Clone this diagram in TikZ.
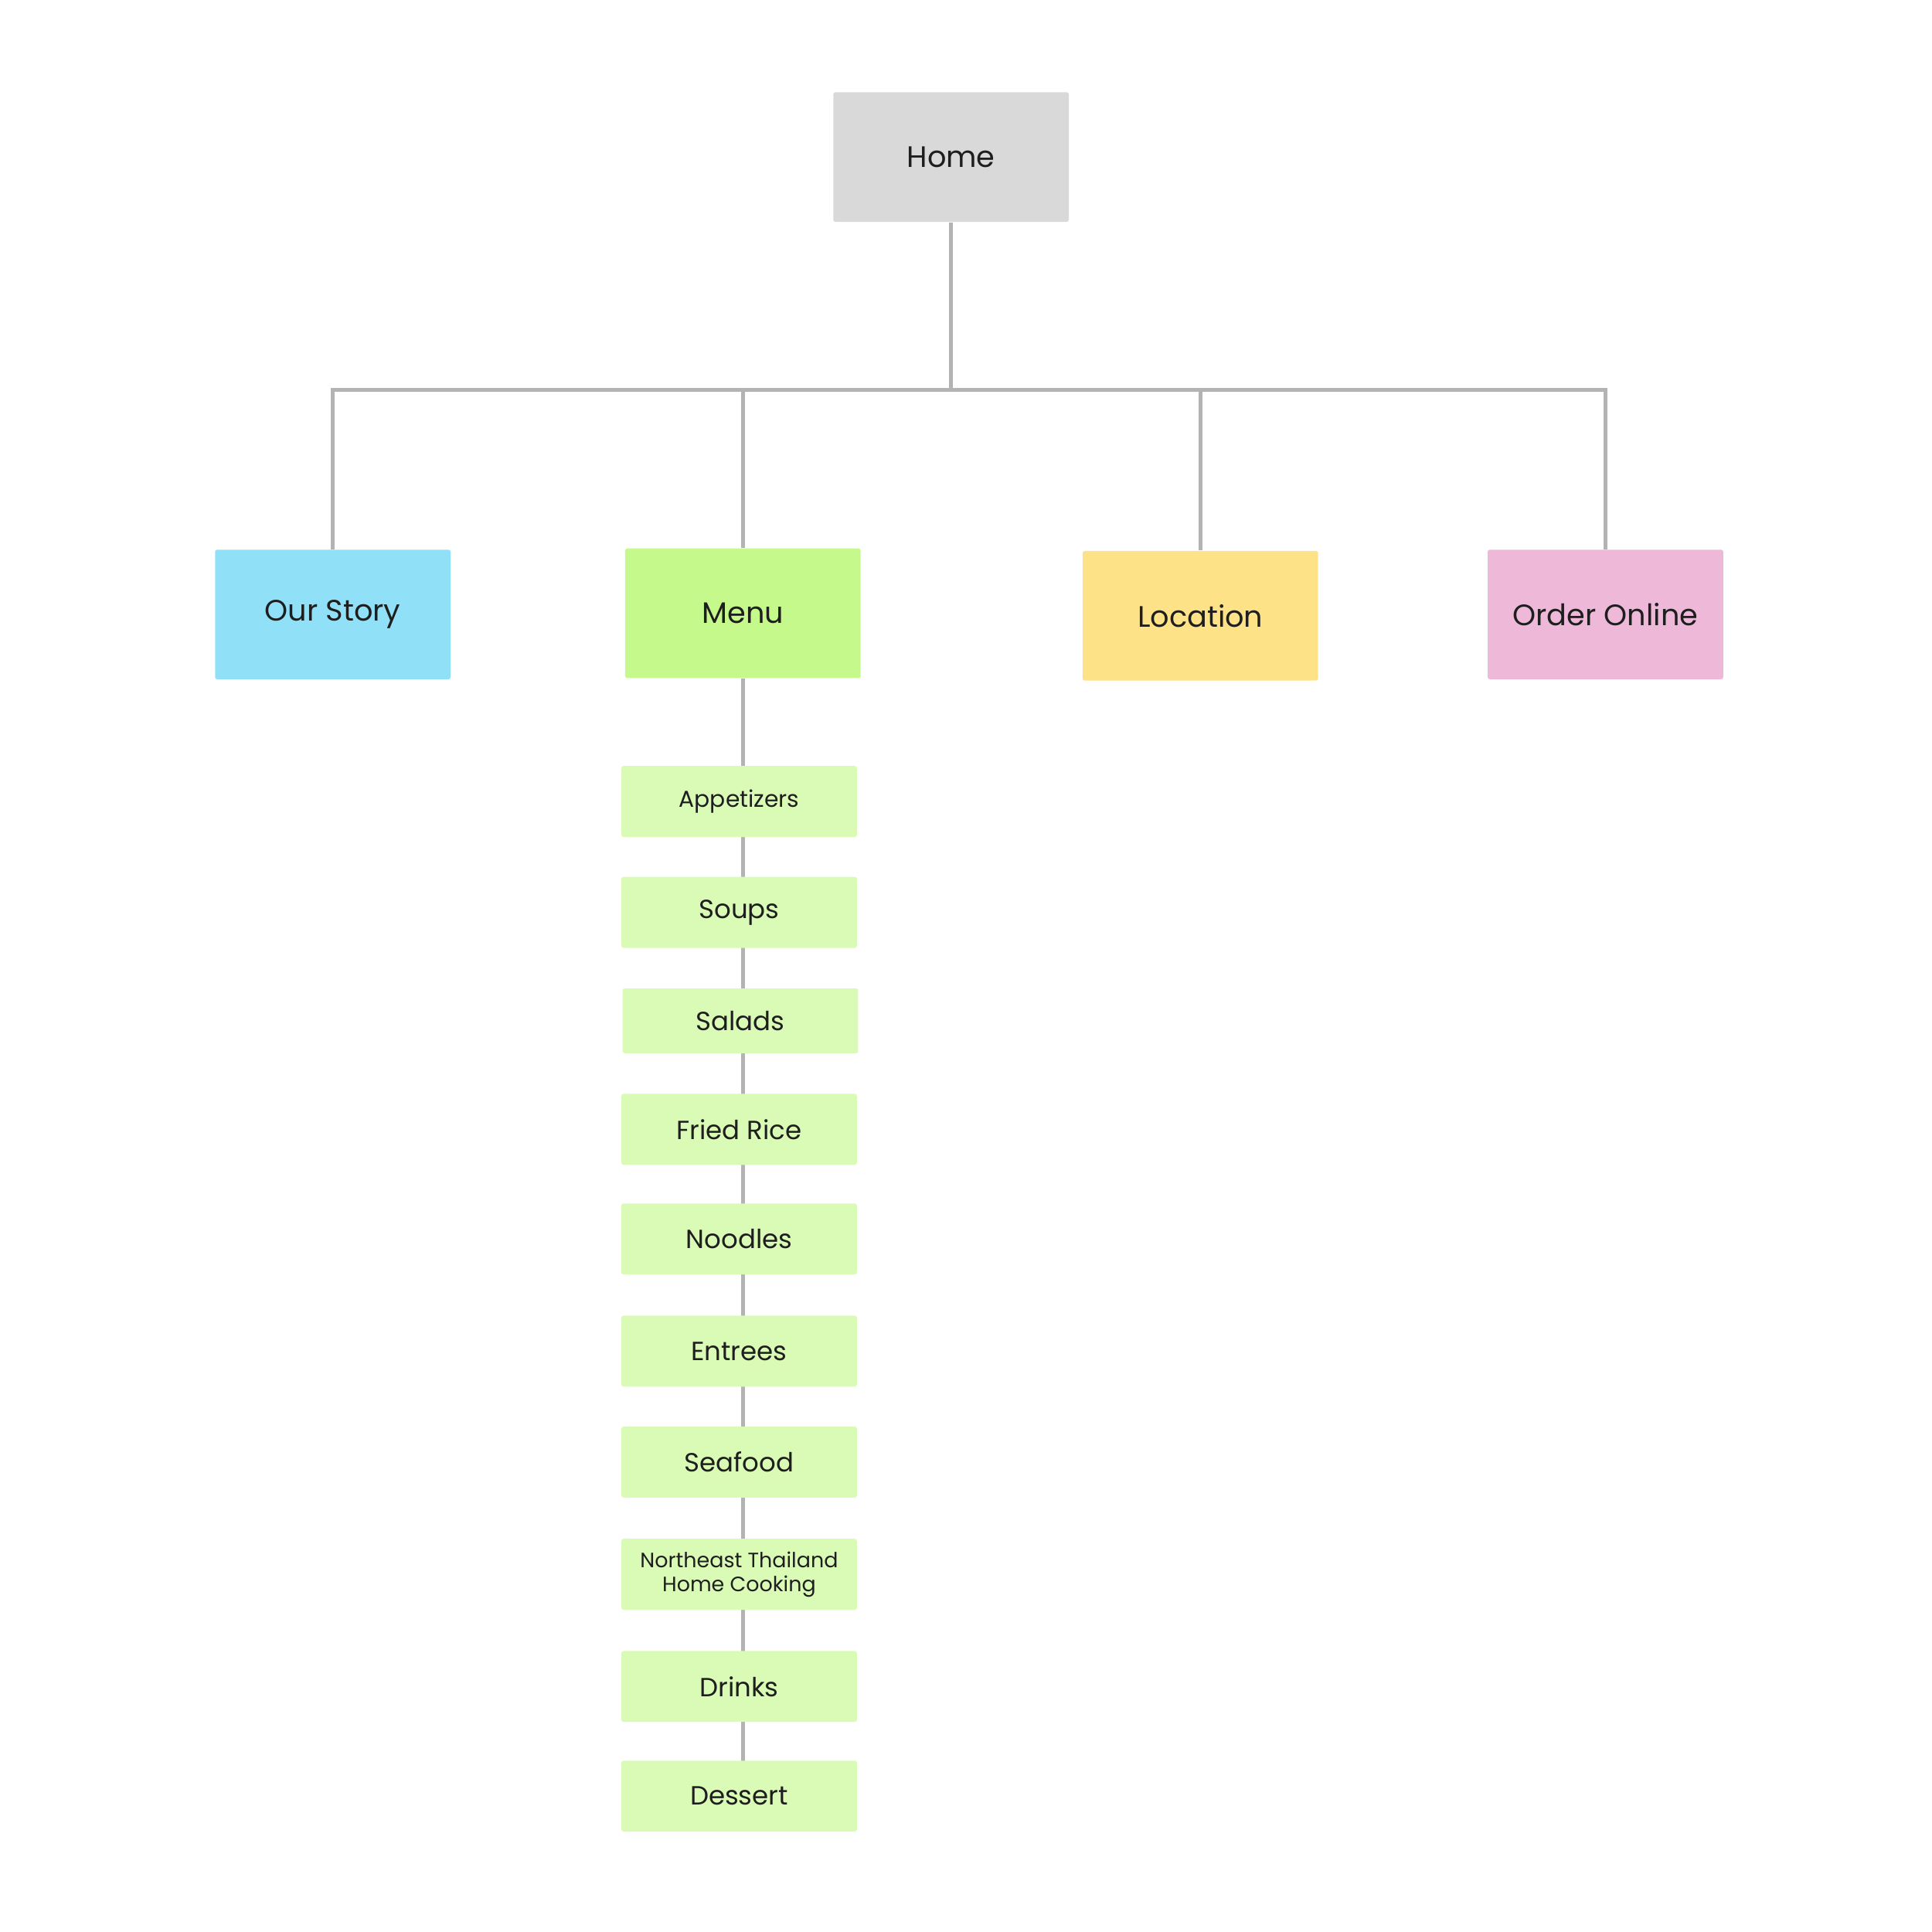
\documentclass[tikz,border=0pt]{standalone}
\usepackage{fontspec}
\setmainfont{Poppins}
\usetikzlibrary{positioning}
\definecolor{homegrey}{HTML}{D9D9D9}
\definecolor{storyblue}{HTML}{90E0F7}
\definecolor{menugreen}{HTML}{C6F98C}
\definecolor{locyellow}{HTML}{FEE287}
\definecolor{orderpink}{HTML}{EEB8D9}
\definecolor{subgreen}{HTML}{DAFBB6}
\definecolor{linkgrey}{HTML}{B3B3B3}
\definecolor{textdark}{HTML}{1E1E1E}
\begin{document}
\begin{tikzpicture}[x=0.02cm, y=-0.02cm,
    page/.style={rectangle, rounded corners=1pt, minimum width=3.78cm, minimum height=2.08cm,
        text=textdark, font=\fontsize{13.5}{16}\selectfont, inner sep=0pt},
    subpage/.style={page, fill=subgreen, minimum height=1.14cm, font=\fontsize{12}{14}\selectfont},
    link/.style={draw=linkgrey, line width=1.7pt}]
    \useasboundingbox (0,0) rectangle (1550,1550);

    % Menu items (drawn first, the spine runs behind them)
    \coordinate (spine) at (596,1441);
    \node[page, fill=menugreen] (menu) at (596,492) {Menu};
    \draw[link] (menu.south) -- (spine);
    \node[subpage, font=\fontsize{10.5}{12}\selectfont] (app) at (593,643) {Appetizers};
    \node[subpage] (soup) at (593,732) {Soups};
    \node[subpage, minimum height=1.04cm] (salad) at (594,819) {Salads};
    \node[subpage] (rice) at (593,906) {Fried Rice};
    \node[subpage] (noodle) at (593,994) {Noodles};
    \node[subpage] (entree) at (593,1084) {Entrees};
    \node[subpage] (sea) at (593,1173) {Seafood};
    \node[subpage, font=\fontsize{9.5}{11}\selectfont, align=center] (isan) at (593,1263) {Northeast Thailand\\Home Cooking};
    \node[subpage] (drink) at (593,1353) {Drinks};
    \node[subpage] (dessert) at (593,1441) {Dessert};

    % Top level
    \node[page, fill=homegrey] (home) at (763,126) {Home};

    % Sections
    \node[page, fill=storyblue] (story) at (267,493) {Our Story};
    \node[page, fill=locyellow] (loc) at (963,494) {Location};
    \node[page, fill=orderpink] (order) at (1288,493) {Order Online};

    % Bus
    \coordinate (bus) at (763,313);
    \draw[link] (home.south) -- (bus);
    \draw[link] (story.north) |- (bus) -| (order.north);
    \draw[link] (menu.north) -- (menu.north |- bus);
    \draw[link] (loc.north) -- (loc.north |- bus);
\end{tikzpicture}
\end{document}
